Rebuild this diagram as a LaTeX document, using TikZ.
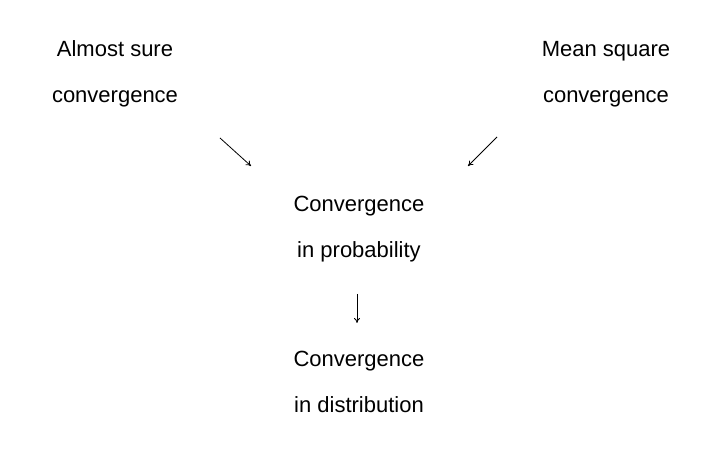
\documentclass[tikz,border=0pt]{standalone}
\usepackage{fontspec}
\setmainfont{Liberation Sans}
\usetikzlibrary{arrows.meta}
\begin{document}
\begin{tikzpicture}[x=1pt,y=1pt,
  lbl/.style={align=center,font=\fontsize{22}{46}\selectfont,inner sep=0pt},
  arr/.style={-{To[length=5pt,width=6pt]},line width=0.8pt}]
\useasboundingbox (0,0) rectangle (720,454);
\node[lbl] (as) at (115,380) {Almost sure\\convergence};
\node[lbl] (ms) at (606,380) {Mean square\\convergence};
\node[lbl] (cp) at (359,225) {Convergence\\in probability};
\node[lbl] (cd) at (359,72) {Convergence\\in distribution};
\coordinate (a1) at (220,316); \coordinate (a2) at (251,288);
\coordinate (b1) at (497,317); \coordinate (b2) at (468,288);
\coordinate (c1) at (357,160); \coordinate (c2) at (357,131);
\draw[arr] (a1) -- (a2);
\draw[arr] (b1) -- (b2);
\draw[arr] (c1) -- (c2);
\end{tikzpicture}
\end{document}
